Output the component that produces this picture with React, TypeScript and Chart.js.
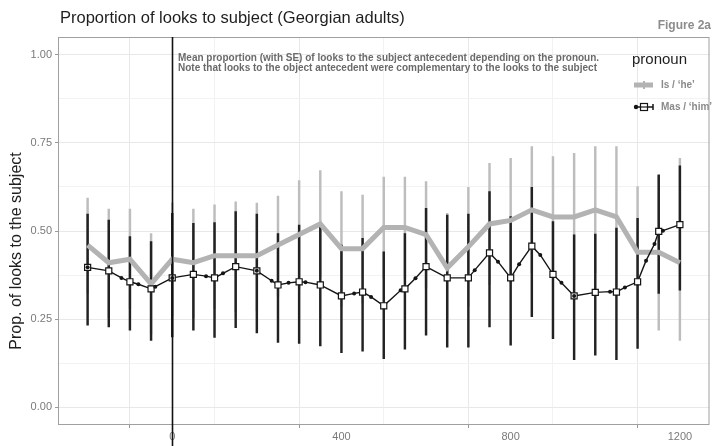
import React, { useEffect, useRef } from 'react';
import { Chart, registerables } from 'chart.js';

Chart.register(...registerables);

const FONT = '"Liberation Sans", Arial, Helvetica, sans-serif';

// ---- data ----
const times = [-200, -150, -100, -50, 0, 50, 100, 150, 200, 250, 300, 350, 400, 450, 500, 550, 600, 650, 700, 750, 800, 850, 900, 950, 1000, 1050, 1100, 1150, 1200];

// "Is / 'he'" (grey)
const heMean = [0.46, 0.41, 0.42, 0.35, 0.42, 0.41, 0.43, 0.43, 0.43, 0.46, 0.49, 0.52, 0.45, 0.45, 0.51, 0.51, 0.49, 0.395, 0.455, 0.52, 0.53, 0.56, 0.54, 0.54, 0.56, 0.54, 0.44, 0.44, 0.41];
const heHigh = [0.593, 0.562, 0.562, 0.493, 0.58, 0.562, 0.574, 0.583, 0.579, 0.599, 0.643, 0.671, 0.612, 0.602, 0.653, 0.653, 0.64, 0.55, 0.624, 0.692, 0.706, 0.739, 0.711, 0.72, 0.739, 0.739, 0.626, 0.657, 0.706];
const heLow = [0.323, 0.254, 0.28, 0.209, 0.26, 0.254, 0.28, 0.271, 0.275, 0.315, 0.335, 0.369, 0.286, 0.296, 0.367, 0.367, 0.338, 0.238, 0.286, 0.348, 0.352, 0.381, 0.371, 0.362, 0.381, 0.343, 0.25, 0.219, 0.19];

// "Mas / 'him'" (black)
const himMean = [0.397, 0.387, 0.356, 0.336, 0.367, 0.377, 0.367, 0.399, 0.387, 0.347, 0.356, 0.347, 0.316, 0.327, 0.288, 0.336, 0.399, 0.367, 0.367, 0.438, 0.367, 0.457, 0.377, 0.316, 0.326, 0.327, 0.356, 0.499, 0.518];
const himHigh = [0.548, 0.531, 0.484, 0.47, 0.55, 0.522, 0.524, 0.555, 0.548, 0.493, 0.517, 0.522, 0.46, 0.479, 0.441, 0.493, 0.564, 0.545, 0.548, 0.612, 0.541, 0.624, 0.527, 0.489, 0.491, 0.508, 0.536, 0.659, 0.685];
const himLow = [0.233, 0.228, 0.219, 0.19, 0.2, 0.219, 0.198, 0.226, 0.211, 0.184, 0.181, 0.174, 0.155, 0.159, 0.138, 0.165, 0.205, 0.171, 0.171, 0.228, 0.176, 0.257, 0.195, 0.135, 0.148, 0.135, 0.167, 0.323, 0.332];

// small intermediate samples on the 'him' line
const himDotTimes = [-200, -120, -80, -40, 0, 80, 120, 200, 235, 275, 315, 430, 470, 540, 575, 715, 770, 820, 870, 920, 950, 1035, 1070, 1120, 1140, 1160];
const himDotValues = [0.397, 0.367, 0.349, 0.342, 0.367, 0.372, 0.38, 0.387, 0.359, 0.353, 0.355, 0.323, 0.313, 0.332, 0.366, 0.389, 0.413, 0.406, 0.432, 0.353, 0.316, 0.328, 0.34, 0.416, 0.463, 0.501];

const yTickValues = [0, 0.125, 0.25, 0.375, 0.5, 0.625, 0.75, 0.875, 1];
const yTickLabelled = [0, 0.25, 0.5, 0.75, 1];
const xTickValues = [-200, 0, 200, 400, 600, 800, 1000, 1200];
const xTickLabelled = [0, 400, 800, 1200];
const onsetTime = 0;

const titleText = 'Proportion of looks to subject (Georgian adults)';
const figureText = 'Figure 2a';
const yAxisTitle = 'Prop. of looks to the subject';
const noteLines = [
  'Mean proportion (with SE) of looks to the subject antecedent depending on the pronoun.',
  'Note that looks to the object antecedent were complementary to the looks to the subject',
];
const legendTitle = 'pronoun';
const heLabel = 'Is / \u2018he\u2019';
const himLabel = 'Mas / \u2018him\u2019';

const GREY = '#b3b3b3';
const BLACK = '#151515';

const decorPlugin = {
  id: 'decor',
  afterDatasetsDraw(chart: any) {
    const { ctx, chartArea: a, scales } = chart;
    ctx.save();
    ctx.strokeStyle = '#a0a0a0';
    ctx.lineWidth = 1;
    ctx.strokeRect(a.left + 0.5, a.top + 0.5, a.right - a.left - 1, a.bottom - a.top - 1);
    const x0 = Math.round(scales.x.getPixelForValue(onsetTime)) + 0.5;
    ctx.strokeStyle = '#111';
    ctx.lineWidth = 1.6;
    ctx.beginPath();
    ctx.moveTo(x0, a.top);
    ctx.lineTo(x0, chart.height);
    ctx.stroke();
    ctx.restore();
  },
  afterDraw(chart: any) {
    const { ctx, chartArea: a } = chart;
    ctx.save();
    ctx.textBaseline = 'middle';
    // title
    ctx.fillStyle = '#1e1e1e';
    ctx.font = `16.5px ${FONT}`;
    ctx.textAlign = 'left';
    ctx.fillText(titleText, a.left + 2, 18);
    // figure label
    ctx.fillStyle = '#8c8c8c';
    ctx.font = `bold 12px ${FONT}`;
    ctx.textAlign = 'right';
    ctx.fillText(figureText, 711, 26);
    // y axis title
    ctx.save();
    ctx.translate(17, 251);
    ctx.rotate(-Math.PI / 2);
    ctx.textAlign = 'center';
    ctx.fillStyle = '#1e1e1e';
    ctx.font = `16px ${FONT}`;
    ctx.fillText(yAxisTitle, 0, 0);
    ctx.restore();
    // note
    ctx.fillStyle = '#6a6a6a';
    ctx.font = `bold 10px ${FONT}`;
    ctx.textAlign = 'left';
    noteLines.forEach((t, i) => ctx.fillText(t, 178, 58 + i * 10.5));
    // legend
    ctx.fillStyle = '#1e1e1e';
    ctx.font = `15px ${FONT}`;
    ctx.fillText(legendTitle, 632, 60);
    const ds = chart.data.datasets;
    // grey key
    ctx.strokeStyle = GREY;
    ctx.lineWidth = 5;
    ctx.beginPath();
    ctx.moveTo(634, 85);
    ctx.lineTo(653, 85);
    ctx.stroke();
    ctx.lineWidth = 2;
    ctx.beginPath();
    ctx.moveTo(644, 81);
    ctx.lineTo(644, 89);
    ctx.stroke();
    // black key
    ctx.strokeStyle = BLACK;
    ctx.lineWidth = 1.5;
    ctx.beginPath();
    ctx.moveTo(634, 107);
    ctx.lineTo(653, 107);
    ctx.moveTo(653, 104);
    ctx.lineTo(653, 110);
    ctx.stroke();
    ctx.fillStyle = BLACK;
    ctx.beginPath();
    ctx.arc(636, 107, 2.2, 0, Math.PI * 2);
    ctx.fill();
    ctx.fillStyle = '#fff';
    ctx.fillRect(640.5, 103.5, 7, 7);
    ctx.lineWidth = 1.2;
    ctx.strokeRect(640.5, 103.5, 7, 7);
    ctx.beginPath();
    ctx.moveTo(640.5, 107);
    ctx.lineTo(647.5, 107);
    ctx.stroke();
    ctx.fillStyle = '#8a8a8a';
    ctx.font = `bold 10px ${FONT}`;
    ctx.fillText(ds.find((d: any) => d.id === 'heLine').label, 661, 85);
    ctx.fillText(ds.find((d: any) => d.id === 'himLine').label, 661, 107);
    ctx.restore();
  },
};

export default function App() {
  const ref = useRef<HTMLCanvasElement | null>(null);
  useEffect(() => {
    if (!ref.current) return;
    const himPoints: any[] = [];
    times.forEach((t, i) => himPoints.push({ x: t, y: himMean[i], kind: 'sq' }));
    himDotTimes.forEach((t, i) => himPoints.push({ x: t, y: himDotValues[i], kind: 'dot' }));
    himPoints.sort((p, q) => (p.x - q.x) || (p.kind === 'sq' ? -1 : 1));

    const chart = new Chart(ref.current, {
      type: 'line',
      data: {
        datasets: [
          {
            id: 'heBars',
            type: 'bar',
            label: 'he SE',
            data: times.map((t, i) => ({ x: t, y: [heLow[i], heHigh[i]] })),
            backgroundColor: '#bdbdbd',
            borderWidth: 0,
            barThickness: 1.8,
            grouped: false,
            order: 4,
          } as any,
          {
            id: 'himBars',
            type: 'bar',
            label: 'him SE',
            data: times.map((t, i) => ({ x: t, y: [himLow[i], himHigh[i]] })),
            backgroundColor: '#222222',
            borderWidth: 0,
            barThickness: 1.8,
            grouped: false,
            order: 3,
          } as any,
          {
            id: 'heLine',
            type: 'line',
            label: heLabel,
            data: times.map((t, i) => ({ x: t, y: heMean[i] })),
            borderColor: GREY,
            borderWidth: 5,
            pointRadius: 0,
            tension: 0,
            order: 2,
          } as any,
          {
            id: 'himLine',
            type: 'line',
            label: himLabel,
            data: himPoints,
            borderColor: BLACK,
            borderWidth: 1.4,
            tension: 0,
            pointStyle: (c: any) => (c.raw && c.raw.kind === 'sq' ? 'rect' : 'circle'),
            pointRadius: (c: any) => (c.raw && c.raw.kind === 'sq' ? 4.3 : 2),
            pointBackgroundColor: (c: any) => (c.raw && c.raw.kind === 'sq' ? '#ffffff' : BLACK),
            pointBorderColor: BLACK,
            pointBorderWidth: (c: any) => (c.raw && c.raw.kind === 'sq' ? 1.2 : 0),
            order: 1,
          } as any,
        ],
      },
      options: {
        responsive: false,
        animation: false,
        events: [],
        layout: { padding: { top: 37, right: 2, left: 0, bottom: 0 } },
        plugins: { legend: { display: false }, title: { display: false }, tooltip: { enabled: false } },
        scales: {
          x: {
            type: 'linear',
            min: -270,
            max: 1270,
            offset: false,
            afterBuildTicks: (s: any) => { s.ticks = xTickValues.map((v) => ({ value: v })); },
            afterFit: (s: any) => { s.height = 21; },
            ticks: {
              autoSkip: false,
              maxRotation: 0,
              padding: 2,
              color: '#7a7a7a',
              font: { size: 11, family: FONT },
              callback: (v: any) => (xTickLabelled.includes(v) ? String(v) : ''),
            },
            grid: {
              color: (c: any) => (c.tick && xTickLabelled.includes(c.tick.value) ? '#e8e8e8' : '#f2f2f2'),
              tickLength: 3,
              tickColor: (c: any) => (c.tick && xTickLabelled.includes(c.tick.value) ? '#999' : 'rgba(0,0,0,0)'),
            },
            border: { display: false },
          },
          y: {
            type: 'linear',
            min: -0.05,
            max: 1.05,
            afterBuildTicks: (s: any) => { s.ticks = yTickValues.map((v) => ({ value: v })); },
            afterFit: (s: any) => { s.width = 58; },
            ticks: {
              autoSkip: false,
              padding: 3,
              color: '#7a7a7a',
              font: { size: 11, family: FONT },
              callback: (v: any) => (yTickLabelled.includes(v) ? Number(v).toFixed(2) : ''),
            },
            grid: {
              color: (c: any) => (c.tick && yTickLabelled.includes(c.tick.value) ? '#e8e8e8' : '#f2f2f2'),
              tickLength: 3,
              tickColor: (c: any) => (c.tick && yTickLabelled.includes(c.tick.value) ? '#999' : 'rgba(0,0,0,0)'),
            },
            border: { display: false },
          },
        },
      } as any,
      plugins: [decorPlugin],
    });
    return () => chart.destroy();
  }, []);

  return (
    <div style={{ position: 'absolute', left: 0, top: 0, width: 715, height: 446, background: '#fff' }}>
      <canvas ref={ref} width={715} height={446} />
    </div>
  );
}
